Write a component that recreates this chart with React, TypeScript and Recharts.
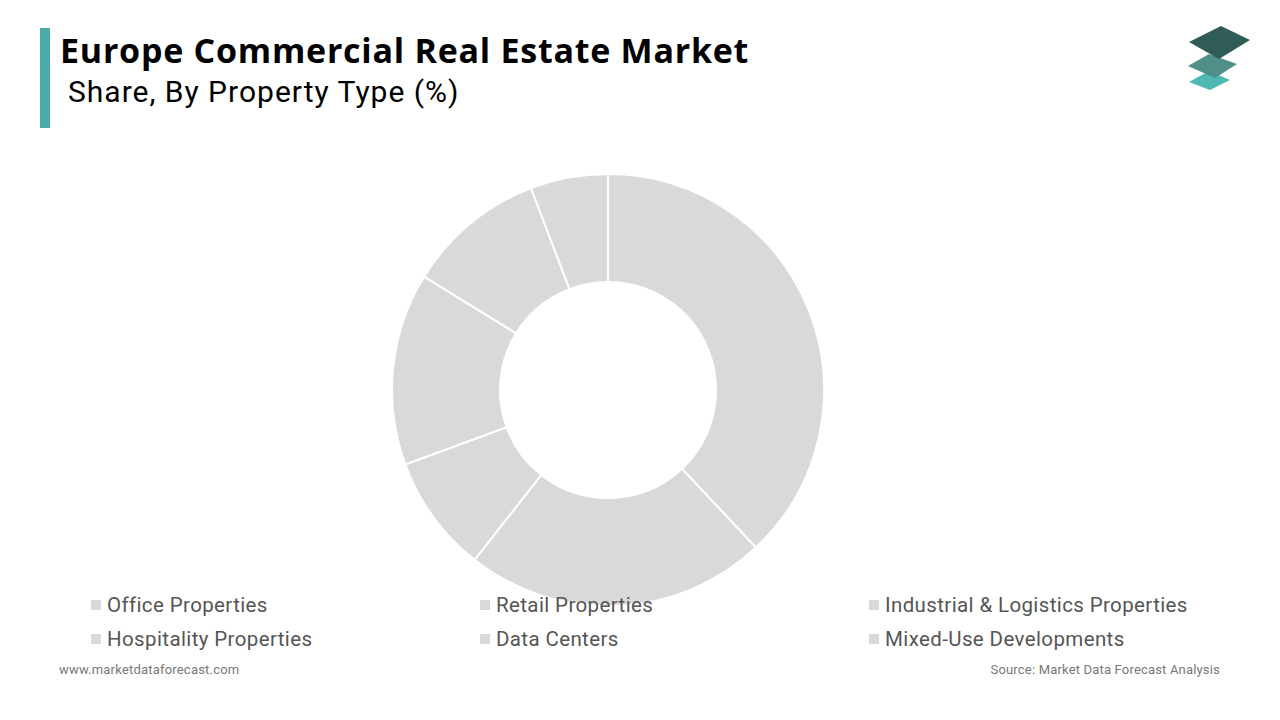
import React from "react";
import { PieChart, Pie, Cell, Legend } from "recharts";

const categories = [
  "Office Properties",
  "Retail Properties",
  "Industrial & Logistics Properties",
  "Hospitality Properties",
  "Data Centers",
  "Mixed-Use Developments",
];
// share (%) in drawing order, clockwise from 12 o'clock
const shares = [38.0, 22.6, 8.8, 14.4, 10.4, 5.8];
const sliceColors = ["#d9d9d9", "#d9d9d9", "#d9d9d9", "#d9d9d9", "#d9d9d9", "#d9d9d9"];

const data = categories.map((name, i) => ({ name, value: shares[i] }));

const renderLegend = () => {
  return (
    <div
      style={{
        display: "grid",
        gridTemplateColumns: "389px 389px 389px",
        rowGap: 10,
        paddingLeft: 91,
      }}
    >
      {categories.map((c, i) => (
        <div key={c} style={{ display: "flex", alignItems: "center", height: 24 }}>
          <span
            style={{
              display: "inline-block",
              width: 10,
              height: 10,
              background: sliceColors[i],
              marginRight: 6,
            }}
          />
          <span style={{ fontFamily: "Roboto", fontSize: 20.5, letterSpacing: 0.38, color: "#555555" }}>{c}</span>
        </div>
      ))}
    </div>
  );
};

export default function App() {
  return (
    <div
      style={{
        position: "absolute",
        left: 0,
        top: 0,
        width: 1280,
        height: 720,
        background: "#ffffff",
        overflow: "hidden",
      }}
    >
      <div style={{ position: "absolute", left: 40, top: 28, width: 10, height: 100, background: "#4aabaa" }} />
      <div
        style={{
          position: "absolute",
          left: 60,
          top: 26,
          fontFamily: "'Open Sans'",
          fontWeight: 700,
          fontSize: 34,
          letterSpacing: 0.75,
          color: "#000",
          whiteSpace: "nowrap",
          lineHeight: "48px",
        }}
      >
        Europe Commercial Real Estate Market
      </div>
      <div
        style={{
          position: "absolute",
          left: 68,
          top: 74,
          fontFamily: "Roboto",
          fontSize: 30,
          letterSpacing: 1,
          color: "#000",
          whiteSpace: "nowrap",
          lineHeight: "36px",
        }}
      >
        Share, By Property Type (%)
      </div>
      <svg style={{ position: "absolute", left: 1185, top: 22 }} width={70} height={72} viewBox="0 0 70 72">
        <polygon points="4,60 24,49 45,58 25,68" fill="#4fb8b2" />
        <polygon points="3,44 24,32 52,42 30,56" fill="#4f8f87" />
        <polygon points="4,20 36,4 65,18 34,37" fill="#2f5c56" />
      </svg>
      <div style={{ position: "absolute", left: 0, top: 0 }}>
        <PieChart width={1280} height={720} margin={{ top: 0, right: 0, bottom: 0, left: 0 }}>
          <Pie
            data={data}
            dataKey="value"
            nameKey="name"
            cx={608}
            cy={390}
            innerRadius={108}
            outerRadius={216}
            startAngle={90}
            endAngle={-270}
            stroke="#ffffff"
            strokeWidth={2}
            isAnimationActive={false}
          >
            {data.map((d, i) => (
              <Cell key={d.name} fill={sliceColors[i]} />
            ))}
          </Pie>
          <Legend
            content={renderLegend}
            wrapperStyle={{ position: "absolute", left: 0, top: 593, width: 1280 }}
          />
        </PieChart>
      </div>
      <div
        style={{
          position: "absolute",
          left: 59,
          top: 662,
          fontFamily: "Roboto",
          fontSize: 13,
          letterSpacing: 0.2,
          color: "#777",
          whiteSpace: "nowrap",
        }}
      >
        www.marketdataforecast.com
      </div>
      <div
        style={{
          position: "absolute",
          right: 60,
          top: 662,
          fontFamily: "Roboto",
          fontSize: 13,
          letterSpacing: 0.18,
          color: "#777",
          whiteSpace: "nowrap",
        }}
      >
        Source: Market Data Forecast Analysis
      </div>
    </div>
  );
}
